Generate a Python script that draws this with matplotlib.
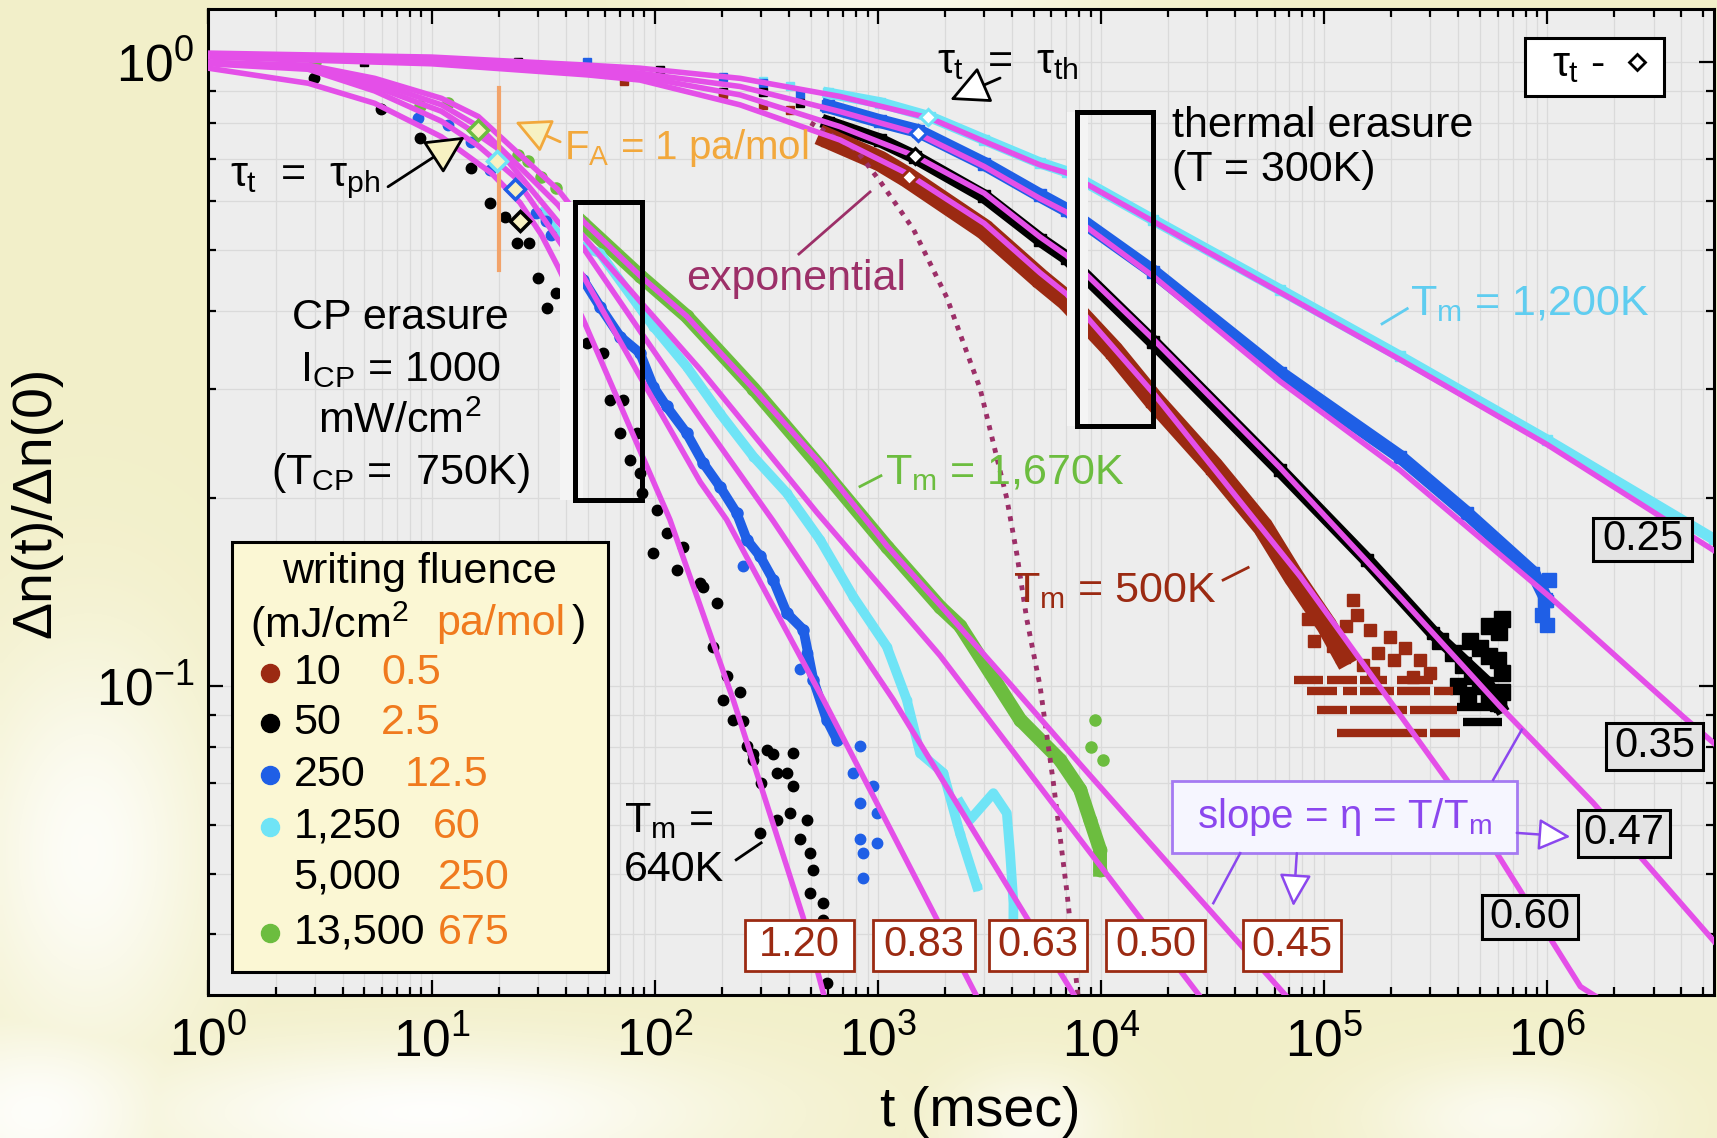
import numpy as np
import matplotlib.pyplot as plt
from matplotlib.patches import Rectangle
from matplotlib.ticker import FixedLocator, LogLocator

plt.rcParams['font.family'] = ['Liberation Sans', 'DejaVu Sans']
plt.rcParams['mathtext.fontset'] = 'custom'
plt.rcParams['mathtext.rm'] = 'Liberation Sans'
plt.rcParams['mathtext.it'] = 'Liberation Sans'
plt.rcParams['mathtext.bf'] = 'Liberation Sans:bold'

RED = '#9b2a12'
BLUE = '#1f5fe6'
CYAN = '#6fe4f6'
GREEN = '#6cbd3f'
FIT = '#e44fe8'
ORANGE = '#f07a1e'
FA_ORANGE = '#f2a83c'
PURPLE = '#8b47ee'
EXPO = '#9c2f68'
CREAM = '#f7f1c2'

# ---- CP erasure data (circles), t in msec ----
cp50_t = [2.97, 5.91, 8.85, 15.1, 18.2, 21.3, 24.1, 27.2, 30.1, 36.3, 32.8, 49.6, 58.9, 63.1, 72.4, 70.0,
          83.1, 77.6, 86.0, 87.6, 102, 113, 134, 98.7, 126, 160, 165, 190, 183, 210, 203, 225, 259,
          277, 318, 418, 352, 418, 405, 481, 297, 448, 497, 514, 497, 570, 570, 590,
          277, 340, 391, 352, 300, 240, 250]
cp50_y = [0.945, 0.841, 0.756, 0.677, 0.596, 0.566, 0.513, 0.513, 0.451, 0.427, 0.404, 0.355, 0.342, 0.288,
          0.288, 0.2545, 0.2545, 0.2307, 0.2197, 0.204, 0.192, 0.176, 0.1675, 0.1634, 0.1537, 0.1464,
          0.1445, 0.1359, 0.1158, 0.1037, 0.0951, 0.0884, 0.0801, 0.0762, 0.0791, 0.0781, 0.0726,
          0.0691, 0.0626, 0.0611, 0.0582, 0.0568, 0.0540, 0.0508, 0.0466, 0.0449, 0.0422, 0.0334,
          0.078, 0.078, 0.0726, 0.0611, 0.070, 0.098, 0.088]

cp250_band_t = [47.9, 56.9, 70.0, 86.0, 98.7, 113, 139, 165, 196, 233, 259, 297, 340, 391, 464, 514, 590, 655]
cp250_band_y = [0.448, 0.406, 0.3636, 0.342, 0.302, 0.281, 0.2545, 0.228, 0.209, 0.1895, 0.1717, 0.1615,
                0.148, 0.131, 0.1232, 0.1024, 0.0884, 0.0821]
cp250_pts_t = [8.73, 11.9, 15.1, 18.2, 29.5, 32.7, 34.4, 250, 481, 448, 833, 778, 955, 833, 990, 833, 990, 862, 862]
cp250_pts_y = [0.814, 0.794, 0.746, 0.673, 0.573, 0.557, 0.529, 0.1556, 0.113, 0.1065, 0.0801, 0.0726,
               0.0691, 0.065, 0.0626, 0.0568, 0.0561, 0.054, 0.0493]

cp1250_t = [31.0, 37.0, 47.9, 56.9, 98.7, 139, 196, 277, 391, 551, 778, 1097, 1349, 1547, 1968, 2338, 2777]
cp1250_y = [0.573, 0.53, 0.506, 0.4945, 0.3773, 0.3255, 0.274, 0.2334, 0.204, 0.1717, 0.139, 0.1158,
            0.0951, 0.0781, 0.0726, 0.058, 0.0478]
cp1250_spur_t = [2338, 2592, 3296, 3786, 3917, 4055, 4042]
cp1250_spur_y = [0.065, 0.0611, 0.0674, 0.0626, 0.054, 0.0449, 0.0365]

cp13500_band_t = [47.9, 86.0, 139, 277, 551, 1097, 1901, 2338, 4345, 6561, 8070, 8940, 9910, 9910]
cp13500_band_y = [0.552, 0.455, 0.392, 0.30, 0.225, 0.1675, 0.134, 0.125, 0.0884, 0.0762, 0.0683,
                  0.0611, 0.0547, 0.0508]
cp13500_pts_t = [2.99, 5.95, 8.85, 11.9, 24.5, 27.0, 31.0, 36.3, 9420, 10230, 9000]
cp13500_pts_y = [1.0, 0.909, 0.85, 0.86, 0.711, 0.694, 0.656, 0.629, 0.0884, 0.0762, 0.080]

# ---- thermal erasure data (squares) ----
th1250_early_t = [307, 404]
th1250_early_y = [0.935, 0.915]
th1250_t = [600, 1023, 1715, 3000, 5335, 7031, 17180, 63550, 2.19e5, 1.0e6, 5.6e6]
th1250_y = [0.893, 0.862, 0.818, 0.752, 0.69, 0.668, 0.559, 0.432, 0.338, 0.248, 0.172]
th250_early_t = [49.5, 203, 307, 450]
th250_early_y = [1.0, 0.949, 0.926, 0.89]
th250_t = [600, 1023, 1521, 3000, 5335, 7031, 17180, 63550, 2.19e5, 4.36e5, 8.68e5, 1.0e6]
th250_y = [0.85, 0.805, 0.776, 0.688, 0.612, 0.58, 0.462, 0.318, 0.2334, 0.1895, 0.1518, 0.137]
th250_end_t = [9.8e5, 1.0e6, 1.02e6, 9.5e5]
th250_end_y = [0.1376, 0.1254, 0.148, 0.130]
th50_early_t = [4.98, 24.4, 106, 203, 307, 450]
th50_early_y = [1.0, 1.0, 0.973, 0.898, 0.898, 0.86]
th50_t = [600, 1023, 1469, 3000, 5335, 7031, 17180, 63550, 1.556e5, 3.09e5, 5.37e5, 6.15e5]
th50_y = [0.80, 0.75, 0.705, 0.61, 0.52, 0.486, 0.356, 0.222, 0.1594, 0.1217, 0.1012, 0.0928]
th50_end_t = [3.3e5, 3.8e5, 4.2e5, 4.6e5, 5.0e5, 5.5e5, 6.0e5, 4.5e5, 5.0e5, 5.5e5, 6.0e5, 6.3e5,
              5.5e5, 6.1e5, 6.3e5, 6.3e5, 4.0e5, 4.4e5]
th50_end_y = [0.118, 0.113, 0.108, 0.104, 0.100, 0.097, 0.094, 0.118, 0.115, 0.112, 0.11, 0.105,
              0.125, 0.122, 0.128, 0.098, 0.100, 0.097]
th10_early_t = [73.2, 203, 307, 404]
th10_early_y = [0.934, 0.89, 0.855, 0.839]
th10_t = [600, 1023, 1349, 3000, 5335, 7031, 11380, 17180, 31900, 53300, 72900, 1.03e5, 1.22e5]
th10_y = [0.755, 0.695, 0.655, 0.54, 0.45, 0.415, 0.345, 0.288, 0.225, 0.18, 0.150, 0.125, 0.112]
th10_pts_t = [1.355e5, 1.61e5, 1.98e5, 2.05e5, 2.7e5, 2.51e5, 1.25e5, 1.1e5, 9e4, 1.5e5, 1.75e5, 2.3e5,
              3.0e5, 8.5e4, 1.4e5, 1.2e5, 1.65e5]
th10_pts_y = [0.1376, 0.1232, 0.120, 0.1103, 0.1103, 0.1036, 0.125, 0.116, 0.118, 0.108, 0.113, 0.115,
              0.105, 0.128, 0.130, 0.112, 0.105]
# quantised low-signal rows: level, start, end
th10_rows = [(0.1024, 7.3e4, 9.9e4), (0.1024, 1.03e5, 1.4e5), (0.1024, 1.45e5, 1.91e5), (0.1024, 2.12e5, 3.09e5),
             (0.0981, 8.4e4, 1.14e5), (0.0981, 1.22e5, 1.4e5), (0.0981, 1.45e5, 2.05e5), (0.0981, 2.12e5, 3.0e5),
             (0.0981, 3.1e5, 3.8e5), (0.0917, 9.3e4, 1.265e5), (0.0917, 1.31e5, 2.35e5), (0.0917, 2.43e5, 3.94e5),
             (0.0841, 1.14e5, 2.89e5), (0.0841, 2.99e5, 4.07e5)]
th50_rows = [(0.0925, 3.94e5, 6.15e5), (0.0878, 4.2e5, 6.27e5)]

# ---- fits ----
fit_cp50_t = [1, 2.8, 5.56, 11.07, 18.5, 24.9, 31.0, 36.9, 47.9, 117, 225, 462, 569, 600]
fit_cp50_y = [0.979, 0.926, 0.86, 0.76, 0.665, 0.596, 0.53, 0.47, 0.3867, 0.185, 0.0951, 0.0427, 0.0323, 0.0301]
fit_cp250_t = [1, 2.8, 5.56, 11.07, 16.2, 23.6, 36.9, 47.9, 86, 160, 210, 571, 2780]
fit_cp250_y = [0.995, 0.975, 0.90, 0.805, 0.735, 0.655, 0.52, 0.454, 0.3136, 0.2125, 0.185, 0.0951, 0.0318]
fit_cp1250_t = [1, 2.8, 5.56, 11.07, 16.2, 19.6, 36.9, 47.9, 86, 160, 340, 1175, 7660]
fit_cp1250_y = [1.0, 0.98, 0.915, 0.835, 0.765, 0.73, 0.555, 0.504, 0.371, 0.269, 0.184, 0.0951, 0.0318]
fit_cp5000_t = [1, 2.8, 5.56, 11.07, 16.2, 36.9, 47.9, 86, 160, 533, 1901, 8070, 27860]
fit_cp5000_y = [1.0, 0.985, 0.93, 0.855, 0.79, 0.591, 0.526, 0.414, 0.322, 0.19, 0.112, 0.0568, 0.0318]
fit_cp13500_t = [1, 2.8, 5.56, 11.07, 16.2, 36.9, 47.9, 86, 139, 277, 551, 1097, 1901, 4000, 8070, 20000, 68100]
fit_cp13500_y = [1.0, 0.99, 0.943, 0.876, 0.819, 0.625, 0.556, 0.455, 0.392, 0.30, 0.228, 0.168, 0.135,
                 0.100, 0.075, 0.052, 0.0318]

fit_th1250_t = [1, 10, 50, 86, 241.5, 677, 1715, 3000, 5335, 7031, 17180, 63550, 2.19e5, 1.0e6, 5.6e6]
fit_th1250_y = [1.035, 1.02, 0.99, 0.979, 0.943, 0.882, 0.814, 0.747, 0.685, 0.665, 0.556, 0.428, 0.334, 0.244, 0.165]
fit_th250_t = [1, 10, 50, 86, 241.5, 677, 1496, 3000, 5335, 7031, 17180, 63550, 2.19e5, 1.03e6, 4.07e6, 5.6e6]
fit_th250_y = [1.03, 1.015, 0.98, 0.961, 0.915, 0.834, 0.770, 0.681, 0.605, 0.575, 0.454, 0.308, 0.222,
               0.139, 0.0894, 0.081]
fit_th50_t = [1, 10, 50, 86, 241.5, 677, 1469, 3000, 5335, 7031, 17180, 63550, 2.19e5, 6.15e5, 1.61e6, 5.6e6]
fit_th50_y = [1.025, 1.005, 0.965, 0.949, 0.887, 0.789, 0.708, 0.617, 0.525, 0.49, 0.36, 0.224,
              0.139, 0.0928, 0.065, 0.039]
fit_th10_t = [1, 10, 50, 86, 241.5, 677, 1349, 3000, 5335, 7031, 17180, 78150, 3.55e5, 5.95e5, 1.41e6, 1.66e6]
fit_th10_y = [1.02, 0.995, 0.955, 0.937, 0.855, 0.751, 0.664, 0.552, 0.46, 0.425, 0.295, 0.150,
              0.0708, 0.054, 0.033, 0.0318]

expo_t = [500, 797, 1023, 1445, 2038, 2874, 3786, 4198, 4654, 5337, 6124, 7031, 7900]
expo_y = [0.80, 0.725, 0.645, 0.54, 0.42, 0.30, 0.20, 0.163, 0.128, 0.100, 0.07, 0.047, 0.0318]

# tau_t markers (CP and thermal)
dia_cp_t = [16.2, 19.6, 23.6, 24.9]
dia_cp_y = [0.780, 0.695, 0.626, 0.556]
dia_cp_c = [GREEN, CYAN, BLUE, 'k']
dia_th_t = [1686, 1521, 1469, 1386]
dia_th_y = [0.818, 0.772, 0.708, 0.656]
dia_th_c = [CYAN, BLUE, 'k', RED]

# slope labels
red_box_labels = ['1.20', '0.83', '0.63', '0.50', '0.45']
red_box_t = [(254, 783), (953, 2730), (3155, 8670), (10550, 29300), (43400, 1.194e5)]
red_box_y = (0.035, 0.0422)
black_box_labels = ['0.25', '0.35', '0.47', '0.60']
black_box_t = [(1.61e6, 4.47e6), (1.84e6, 5.0e6), (1.37e6, 3.56e6), (5.12e5, 1.37e6)]
black_box_y = [(0.1589, 0.1862), (0.0735, 0.0874), (0.0533, 0.0634), (0.0393, 0.0462)]

fluence_mj = ['10', '50', '250', '1,250', '5,000', '13,500']
fluence_pamol = ['0.5', '2.5', '12.5', '60', '250', '675']
fluence_colors = [RED, 'k', BLUE, CYAN, None, GREEN]

x_major = [1, 10, 100, 1e3, 1e4, 1e5, 1e6]
y_major = [0.1, 1]

# ---- figure ----
fig = plt.figure(figsize=(17.17, 11.38), dpi=100)

# pale cream background with white swirls
bg = fig.add_axes([0, 0, 1, 1], zorder=-10)
yy, xx = np.mgrid[0:1:230j, 0:1:350j]
white = np.zeros_like(xx)
for cx, cy, sx, sy, a in [(0.05, 0.75, 0.07, 0.18, 0.85), (0.02, 0.98, 0.08, 0.08, 0.9),
                          (0.25, 0.98, 0.18, 0.06, 0.95), (0.6, 0.99, 0.05, 0.05, 0.7),
                          (0.88, 0.985, 0.08, 0.05, 0.7), (0.52, 0.0, 0.12, 0.02, 0.6)]:
    white = np.maximum(white, a * np.exp(-((xx - cx) / sx) ** 2 - ((yy - cy) / sy) ** 2))
base = np.array([0.95, 0.94, 0.79])
bg.imshow(base + (1 - base) * white[..., None], extent=[0, 1, 0, 1], origin='upper',
          aspect='auto', interpolation='bilinear')
bg.set_axis_off()

ax = fig.add_axes([0.1214, 0.1257, 0.8769, 0.866])
ax.set_xscale('log')
ax.set_yscale('log')
ax.set_xlim(1, 5.6e6)
ax.set_ylim(0.032, 1.216)
ax.xaxis.set_major_locator(FixedLocator(x_major))
ax.yaxis.set_major_locator(FixedLocator(y_major))
ax.xaxis.set_minor_locator(LogLocator(subs=np.arange(2, 10)))
ax.yaxis.set_minor_locator(LogLocator(subs=np.arange(2, 10)))
ax.set_facecolor('#ededed')
ax.grid(True, which='both', color='#dadada', lw=0.9)
ax.set_axisbelow(True)
for s in ax.spines.values():
    s.set_linewidth(2.2)
ax.tick_params(which='both', direction='in', top=True, right=True, labelsize=37, width=1.6)
ax.tick_params(which='major', length=11, pad=10)
ax.tick_params(axis='x', which='major', pad=16)
ax.tick_params(which='minor', length=6)
ax.yaxis.set_minor_formatter(plt.NullFormatter())
ax.xaxis.set_minor_formatter(plt.NullFormatter())
ax.set_xlabel('t (msec)', fontsize=40)
ax.set_ylabel('Δn(t)/Δn(0)', fontsize=40)
ax.xaxis.set_label_coords(0.5125, -0.092)
ax.yaxis.set_label_coords(-0.097, 0.5)

# thermal erasure data: sparse early points, then continuous bands
for t, y, c in [(th1250_early_t, th1250_early_y, CYAN), (th250_early_t, th250_early_y, BLUE),
                (th50_early_t, th50_early_y, 'k'), (th10_early_t, th10_early_y, RED)]:
    ax.plot(t, y, ls='none', marker='s', ms=6, color=c, zorder=2)
ax.plot(th1250_t, th1250_y, color=CYAN, lw=8, marker='s', ms=7, zorder=2)
ax.plot(th250_t, th250_y, color=BLUE, lw=10, marker='s', ms=8, zorder=2)
ax.plot(th250_end_t, th250_end_y, ls='none', color=BLUE, marker='s', ms=10, zorder=2)
ax.plot(th50_t, th50_y, color='k', lw=10, marker='s', ms=8, zorder=2)
ax.plot(th50_end_t, th50_end_y, ls='none', color='k', marker='s', ms=11, zorder=2)
ax.plot(th10_t, th10_y, color=RED, lw=15, marker='s', ms=10, zorder=2)
ax.plot(th10_pts_t, th10_pts_y, ls='none', color=RED, marker='s', ms=9, zorder=2)
for lev, t0, t1 in th10_rows:
    ax.hlines(lev, t0, t1, color=RED, lw=6, zorder=2)
for lev, t0, t1 in th50_rows:
    ax.hlines(lev, t0, t1, color='k', lw=6, zorder=2)

# CP erasure data
ax.plot(cp13500_band_t, cp13500_band_y, color=GREEN, lw=10, marker='o', ms=9, zorder=2)
ax.plot(cp13500_pts_t, cp13500_pts_y, ls='none', color=GREEN, marker='o', ms=8, zorder=2)
ax.plot(cp1250_t, cp1250_y, color=CYAN, lw=7, marker='o', ms=6, zorder=2)
ax.plot(cp1250_spur_t, cp1250_spur_y, color=CYAN, lw=7, zorder=2)
ax.plot(cp250_band_t, cp250_band_y, color=BLUE, lw=7, marker='o', ms=8, zorder=2)
ax.plot(cp250_pts_t, cp250_pts_y, ls='none', color=BLUE, marker='o', ms=7.5, zorder=2)
ax.plot(cp50_t, cp50_y, ls='none', color='k', marker='o', ms=7.5, zorder=2)

# fits
for t, y in [(fit_th1250_t, fit_th1250_y), (fit_th250_t, fit_th250_y), (fit_th50_t, fit_th50_y),
             (fit_th10_t, fit_th10_y), (fit_cp50_t, fit_cp50_y), (fit_cp250_t, fit_cp250_y),
             (fit_cp1250_t, fit_cp1250_y), (fit_cp5000_t, fit_cp5000_y), (fit_cp13500_t, fit_cp13500_y)]:
    ax.plot(t, y, color=FIT, lw=4.0, zorder=4, solid_joinstyle='round')
ax.plot(expo_t, expo_y, color=EXPO, lw=3.5, ls=(0, (1, 1.4)), dash_capstyle='butt', zorder=3)

# erasure windows (white strip on the left edge)
ax.add_patch(Rectangle((37.7, 0.199), 47.9 - 37.7, 0.598 - 0.199, fc='#f4f4f4', ec='none', zorder=5))
ax.add_patch(Rectangle((44.0, 0.199), 87.5 - 44.0, 0.598 - 0.199, fc='none', ec='k', lw=3.6, zorder=6))
ax.add_patch(Rectangle((7031, 0.261), 8790 - 7031, 0.834 - 0.261, fc='#f4f4f4', ec='none', zorder=5))
ax.add_patch(Rectangle((7820, 0.261), 17140 - 7820, 0.834 - 0.261, fc='none', ec='k', lw=3.6, zorder=6))

# F_A = 1 pa/mol marker line
ax.plot([20.1, 20.1], [0.465, 0.909], color='#f2a36a', lw=3, zorder=5)

# tau_t diamonds
for t, y, c in zip(dia_cp_t, dia_cp_y, dia_cp_c):
    ax.plot(t, y, marker='D', ms=10, mfc=CREAM, mec=c, mew=2.5, zorder=7)
for t, y, c in zip(dia_th_t, dia_th_y, dia_th_c):
    ax.plot(t, y, marker='D', ms=8, mfc='white', mec=c, mew=2.2, zorder=7)

FS = 31
# annotations
ax.annotate('', xy=(14.1, 0.760), xytext=(6.38, 0.632), zorder=8,
            arrowprops=dict(arrowstyle='-|>,head_length=1.1,head_width=0.55', fc=CREAM, ec='k', lw=2,
                            mutation_scale=22, shrinkA=0, shrinkB=0))
ax.text(1.25, 0.646, r'$\tau_{\rm t}$  =  $\tau_{\rm ph}$', fontsize=FS, ha='left', va='center', zorder=8)
ax.annotate('', xy=(2110, 0.871), xytext=(3532, 0.944), zorder=8,
            arrowprops=dict(arrowstyle='-|>,head_length=1.1,head_width=0.55', fc='white', ec='k', lw=2,
                            mutation_scale=22, shrinkA=0, shrinkB=0))
ax.text(3837, 1.0, r'$\tau_{\rm t}$  =  $\tau_{\rm th}$', fontsize=FS, ha='center', va='center', zorder=8)
ax.annotate('', xy=(23.7, 0.803), xytext=(37.7, 0.746), zorder=8,
            arrowprops=dict(arrowstyle='-|>,head_length=1.1,head_width=0.55', fc=CREAM, ec=FA_ORANGE,
                            lw=2, mutation_scale=20, shrinkA=0, shrinkB=0))
ax.text(39.3, 0.729, r'F$_{\rm A}$ = 1 pa/mol', fontsize=29, color=FA_ORANGE, ha='left', va='center', zorder=8)

ax.plot([443, 923], [0.493, 0.620], color=EXPO, lw=2, zorder=8)
ax.text(430, 0.450, 'exponential', fontsize=FS, color=EXPO, ha='center', va='center', zorder=8)

for yv, s in zip([0.389, 0.321, 0.2654, 0.220],
                 ['CP erasure', r'I$_{\rm CP}$ = 1000', r'mW/cm$^2$', r'(T$_{\rm CP}$ =  750K)']):
    ax.text(7.22, yv, s, fontsize=FS, ha='center', va='center', zorder=8)

ax.text(20800, 0.791, 'thermal erasure', fontsize=FS, ha='left', va='center', zorder=8)
ax.text(20800, 0.673, '(T = 300K)', fontsize=FS, ha='left', va='center', zorder=8)

ax.text(2.43e5, 0.410, r'T$_{\rm m}$ = 1,200K', fontsize=FS, color='#5fcdf0', ha='left', va='center', zorder=8)
ax.plot([1.82e5, 2.36e5], [0.381, 0.403], color='#5fcdf0', lw=2, zorder=8)
ax.text(1077, 0.220, r'T$_{\rm m}$ = 1,670K', fontsize=FS, color=GREEN, ha='left', va='center', zorder=8)
ax.plot([832, 1033], [0.209, 0.2175], color=GREEN, lw=2, zorder=8)
ax.text(4045, 0.142, r'T$_{\rm m}$ = 500K', fontsize=FS, color=RED, ha='left', va='center', zorder=8)
ax.plot([35300, 45700], [0.148, 0.155], color=RED, lw=2, zorder=8)
ax.text(72.9, 0.0609, r'T$_{\rm m}$ =', fontsize=FS, ha='left', va='center', zorder=8)
ax.text(72.9, 0.0508, '640K', fontsize=FS, ha='left', va='center', zorder=8)
ax.plot([232, 300], [0.0527, 0.0561], color='k', lw=2, zorder=8)

# slope value boxes
for lab, (t0, t1) in zip(red_box_labels, red_box_t):
    ax.add_patch(Rectangle((t0, red_box_y[0]), t1 - t0, red_box_y[1] - red_box_y[0],
                           fc='white', ec=RED, lw=2, zorder=8))
    ax.text(np.sqrt(t0 * t1), np.sqrt(red_box_y[0] * red_box_y[1]), lab, fontsize=30, color=RED,
            ha='center', va='center', zorder=9)
for lab, (t0, t1), (y0, y1) in zip(black_box_labels, black_box_t, black_box_y):
    ax.add_patch(Rectangle((t0, y0), t1 - t0, y1 - y0, fc='#e4e4e4', ec='k', lw=2.2, zorder=8))
    ax.text(np.sqrt(t0 * t1), np.sqrt(y0 * y1), lab, fontsize=30, ha='center', va='center', zorder=9)

ax.add_patch(Rectangle((20800, 0.0540), 7.33e5 - 20800, 0.0704 - 0.0540, fc='#f6f6ff', ec='#a57af2',
                       lw=2, zorder=8))
ax.text(1.23e5, 0.0617, r'slope = η = T/T$_{\rm m}$', fontsize=29, color=PURPLE, ha='center', va='center',
        zorder=9)
ax.plot([5.73e5, 7.7e5], [0.0708, 0.0852], color=PURPLE, lw=1.8, zorder=8)
ax.plot([42100, 31900], [0.054, 0.0449], color=PURPLE, lw=1.8, zorder=8)
for xy, xyt in [((72900, 0.0444), (75500, 0.054)), ((1.27e6, 0.0574), (7.31e5, 0.0582))]:
    ax.annotate('', xy=xy, xytext=xyt, zorder=9,
                arrowprops=dict(arrowstyle='-|>,head_length=1.0,head_width=0.5', fc='white', ec=PURPLE,
                                lw=1.8, mutation_scale=20, shrinkA=0, shrinkB=0))

# tau_t key box
ax.add_patch(Rectangle((7.98e5, 0.884), 3.35e6 - 7.98e5, 1.095 - 0.884, fc='white', ec='k', lw=2.2, zorder=8))
ax.text(1.375e6, 0.99, r'$\tau_{\rm t}$ -', fontsize=FS, ha='center', va='center', zorder=9)
ax.plot(2.53e6, 1.0, marker='D', ms=8, mfc='white', mec='k', mew=2, zorder=9)

# fluence legend
ax.add_patch(Rectangle((0.0157, 0.0233), 0.2654 - 0.0157, 0.4597 - 0.0233, transform=ax.transAxes,
                       fc='#fbf7d4', ec='k', lw=2.2, zorder=9))
ax.text(0.1399, 0.4292, 'writing fluence', transform=ax.transAxes, fontsize=FS, ha='center', va='center',
        zorder=10)
ax.text(0.0276, 0.3765, r'(mJ/cm$^2$', transform=ax.transAxes, fontsize=FS, ha='left', va='center', zorder=10)
ax.text(0.1511, 0.3765, 'pa/mol', transform=ax.transAxes, fontsize=FS, color=ORANGE, ha='left', va='center',
        zorder=10)
ax.text(0.2412, 0.3765, ')', transform=ax.transAxes, fontsize=FS, ha='left', va='center', zorder=10)
row_y = [0.3267, 0.276, 0.2232, 0.1705, 0.1187, 0.0629]
pam_x = [0.1146, 0.1146, 0.1306, 0.1489, 0.1525, 0.1525]
for yv, mj, pa, px, c in zip(row_y, fluence_mj, fluence_pamol, pam_x, fluence_colors):
    if c is not None:
        ax.plot(0.0412, yv, marker='o', ms=13, color=c, transform=ax.transAxes, zorder=10, clip_on=False)
    ax.text(0.0565, yv, mj, transform=ax.transAxes, fontsize=FS, ha='left', va='center', zorder=10)
    ax.text(px, yv, pa, transform=ax.transAxes, fontsize=FS, color=ORANGE, ha='left', va='center', zorder=10)

fig.savefig('out.png', dpi=100)
